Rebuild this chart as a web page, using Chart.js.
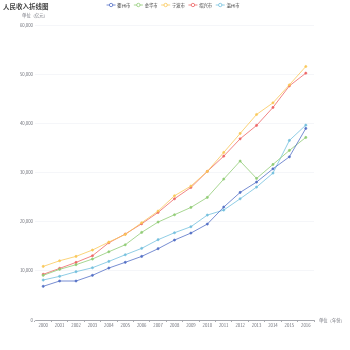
<!DOCTYPE html>
<html>
<head>
<meta charset="utf-8">
<script src="https://cdn.jsdelivr.net/npm/chart.js@4/dist/chart.umd.min.js"></script>
<style>
  html, body { margin: 0; padding: 0; background: #fff; }
  #wrap { width: 350px; height: 350px; }
</style>
</head>
<body>
<div id="wrap"><canvas id="chart"></canvas></div>
<script>
// ──── 데이터 ───────────────────────────────────────────────
const years = ["2000","2001","2002","2003","2004","2005","2006","2007","2008","2009","2010","2011","2012","2013","2014","2015","2016"];
const cityNames = ["衢州市", "金华市", "宁波市", "绍兴市", "温州市"];
const quzhou   = [6850, 7930, 7930, 9080, 10570, 11730, 12940, 14500, 16260, 17680, 19510, 22970, 25950, 28050, 30750, 33190, 38960];
const jinhua   = [9080, 10300, 11250, 12400, 13880, 15300, 17820, 19920, 21410, 22900, 24930, 28660, 32320, 28790, 31640, 34490, 37130];
const ningbo   = [10900, 12050, 12940, 14230, 15850, 17400, 19780, 22150, 25270, 27240, 30220, 34080, 37940, 41800, 44170, 47830, 51560];
const shaoxing = [9290, 10500, 11720, 13070, 15720, 17480, 19570, 21880, 24660, 26960, 30220, 33330, 36850, 39570, 43230, 47620, 50200];
const wenzhou  = [8130, 8880, 9820, 10630, 11920, 13270, 14570, 16330, 17750, 18970, 21340, 22360, 24660, 27030, 29880, 36520, 39630];
const yMax = 60000;
const yStep = 10000;

const colors = ["#5470c6", "#91cc75", "#fac858", "#ee6666", "#73c0de"];
const seriesValues = [quzhou, jinhua, ningbo, shaoxing, wenzhou];

const FONT = '"Noto Sans CJK SC", "Noto Sans", sans-serif';
const SMALL = 4.3;
const GREY = "#6e7079";

// ──── 제목/범례/축 이름 ──────────────────────────────────────
const decorPlugin = {
  id: "decor",
  afterDraw(chart) {
    const ctx = chart.ctx;
    const area = chart.chartArea;
    ctx.save();
    ctx.textBaseline = "middle";

    ctx.fillStyle = "#464646";
    ctx.font = `bold 6.5px ${FONT}`;
    ctx.textAlign = "left";
    ctx.fillText("人民收入折线图", 3, 6.5);

    // 범례
    ctx.font = `${SMALL}px ${FONT}`;
    const iconW = 9, gapIn = 1.8, gapOut = 3.6;
    const widths = cityNames.map((n) => iconW + gapIn + ctx.measureText(n).width);
    const total = widths.reduce((a, b) => a + b, 0) + gapOut * (cityNames.length - 1);
    let x = 173 - total / 2;
    const ly = 5;
    cityNames.forEach((name, i) => {
      ctx.strokeStyle = colors[i];
      ctx.lineWidth = 0.8;
      ctx.beginPath();
      ctx.moveTo(x, ly); ctx.lineTo(x + iconW, ly);
      ctx.stroke();
      ctx.fillStyle = "#fff";
      ctx.beginPath();
      ctx.arc(x + iconW / 2, ly, 1.7, 0, Math.PI * 2);
      ctx.fill(); ctx.stroke();
      ctx.fillStyle = "#333";
      ctx.fillText(name, x + iconW + gapIn, ly + 0.2);
      x += widths[i] + gapOut;
    });

    ctx.fillStyle = GREY;
    ctx.textAlign = "center";
    ctx.fillText("单位（亿元）", area.left, 15);
    ctx.textAlign = "left";
    ctx.fillText("单位（年份）", area.right + 5, area.bottom);
    ctx.restore();
  }
};

new Chart(document.getElementById("chart"), {
  type: "line",
  data: {
    labels: years,
    datasets: seriesValues.map((vals, i) => ({
      label: cityNames[i],
      data: vals,
      borderColor: colors[i],
      backgroundColor: colors[i],
      borderWidth: 0.8,
      pointRadius: 1.1,
      pointBorderWidth: 0.6,
      pointBackgroundColor: colors[i],
      tension: 0,
    })),
  },
  options: {
    responsive: true,
    maintainAspectRatio: false,
    animation: false,
    layout: { padding: { left: 0, top: 25, right: 36, bottom: 0 } },
    plugins: { legend: { display: false }, title: { display: false }, tooltip: { enabled: false } },
    scales: {
      x: {
        offset: true,
        afterFit: (s) => { s.height = 30; },
        grid: { offset: true, drawOnChartArea: false, drawTicks: true, tickLength: 2, color: GREY, lineWidth: 0.6 },
        border: { display: true, color: GREY, width: 0.6 },
        ticks: { color: GREY, font: { size: SMALL, family: FONT }, padding: 1, maxRotation: 0, autoSkip: false },
      },
      y: {
        min: 0,
        max: yMax,
        afterFit: (s) => { s.width = 35; },
        grid: { color: "#eef0f5", lineWidth: 0.6, drawTicks: false },
        border: { display: false },
        ticks: { stepSize: yStep, color: GREY, font: { size: SMALL, family: FONT }, padding: 2 },
      },
    },
  },
  plugins: [decorPlugin],
});
</script>
</body>
</html>
